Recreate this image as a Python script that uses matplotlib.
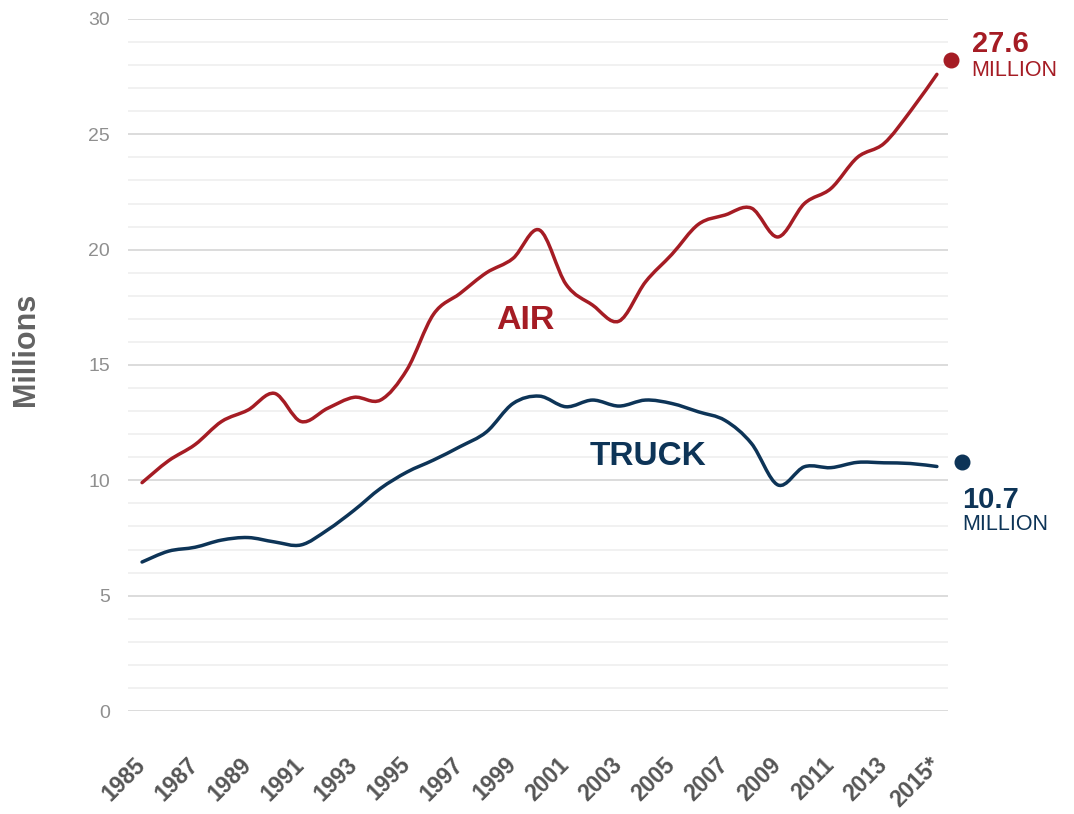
import matplotlib.pyplot as plt
import matplotlib.transforms as mtransforms
from matplotlib.path import Path
from matplotlib.patches import PathPatch
import numpy as np

# Data (millions)
years = list(range(1985, 2016))
air = [9.9, 10.85, 11.55, 12.55, 13.05, 13.77, 12.55, 13.12, 13.6, 13.48,
       14.8, 17.2, 18.1, 19.0, 19.62, 20.85, 18.5, 17.6, 16.9, 18.6,
       19.8, 21.1, 21.5, 21.8, 20.55, 22.0, 22.65, 24.0, 24.6, 26.0, 27.6]
truck = [6.46, 6.93, 7.1, 7.41, 7.52, 7.33, 7.2, 7.85, 8.7, 9.65,
         10.36, 10.88, 11.46, 12.1, 13.33, 13.65, 13.19, 13.48, 13.22, 13.48,
         13.33, 12.97, 12.6, 11.6, 9.8, 10.59, 10.55, 10.78, 10.76, 10.73, 10.6]
air_latest = 27.6
truck_latest = 10.7
tick_years = list(range(1985, 2016, 2))
tick_labels = [str(y) for y in tick_years[:-1]] + ["2015*"]

RED = "#a51c24"
NAVY = "#0d3457"

plt.rcParams['font.family'] = ['Liberation Sans', 'DejaVu Sans']


def smooth_path(x, y):
    # Catmull-Rom curve through every point, as cubic bezier segments
    pts = np.column_stack([x, y]).astype(float)
    ext = np.vstack([pts[0], pts, pts[-1]])
    verts = [pts[0]]
    codes = [Path.MOVETO]
    for i in range(1, len(ext) - 2):
        p0, p1, p2, p3 = ext[i - 1], ext[i], ext[i + 1], ext[i + 2]
        verts += [p1 + (p2 - p0) / 6, p2 - (p3 - p1) / 6, p2]
        codes += [Path.CURVE4] * 3
    return Path(verts, codes)


fig = plt.figure(figsize=(10.74, 8.14), dpi=100)
ax = fig.add_axes([0.1192, 0.1265, 0.7635, 0.8502])

ax.set_xlim(1984.47, 2015.42)
ax.set_ylim(0, 30)

# Grid: light lines every million, darker every five
for v in range(0, 31):
    major = v % 5 == 0
    ax.axhline(v, color="#d9d9d9" if major else "#f0f0f0", lw=1.3, zorder=0)

for series, color in [(air, RED), (truck, NAVY)]:
    ax.add_patch(PathPatch(smooth_path(years, series), fill=False,
                           edgecolor=color, lw=2.5, capstyle='round', zorder=3))

# End dots, nudged off the line ends
air_off = mtransforms.offset_copy(ax.transData, fig=fig, x=10, y=10.5, units='points')
truck_off = mtransforms.offset_copy(ax.transData, fig=fig, x=18, y=1.3, units='points')
ax.plot([2015], [air_latest], "o", ms=10.5, color=RED, transform=air_off, clip_on=False, zorder=4)
ax.plot([2015], [truck_latest], "o", ms=10.5, color=NAVY, transform=truck_off, clip_on=False, zorder=4)

ax.annotate(f"{air_latest}", xy=(2015, air_latest), xytext=(25, 16.3), textcoords="offset points",
            color=RED, fontsize=21, fontweight="bold", ha="left", va="baseline", annotation_clip=False)
ax.annotate("MILLION", xy=(2015, air_latest), xytext=(25, -1.2), textcoords="offset points",
            color=RED, fontsize=15.5, ha="left", va="baseline", annotation_clip=False)
ax.annotate(f"{truck_latest}", xy=(2015, truck_latest), xytext=(18.5, -31.5), textcoords="offset points",
            color=NAVY, fontsize=21, fontweight="bold", ha="left", va="baseline", annotation_clip=False)
ax.annotate("MILLION", xy=(2015, truck_latest), xytext=(18.5, -47.4), textcoords="offset points",
            color=NAVY, fontsize=15.5, ha="left", va="baseline", annotation_clip=False)

# Series names
ax.text(1999.46, 16.55, "AIR", color=RED, fontsize=24.5, fontweight="bold", ha="center", va="baseline")
ax.text(2004.09, 10.66, "TRUCK", color=NAVY, fontsize=24, fontweight="bold", ha="center", va="baseline")

# Axes styling
for s in ax.spines.values():
    s.set_visible(False)
ax.set_yticks(range(0, 31, 5))
ax.tick_params(axis="y", length=0, pad=13, labelsize=14, labelcolor="#8f8f8f")
ax.set_xticks(tick_years)
ax.set_xticklabels(tick_labels, rotation=45, ha="right", va="center", rotation_mode="anchor",
                   fontsize=16.5, fontweight="bold", color="#555555")
ax.tick_params(axis="x", length=0, pad=36)

fig.text(25.5 / 1074, 1 - 349 / 814, "Millions", rotation=90, ha="center", va="center",
         fontsize=22, fontweight="bold", color="#636363")

fig.savefig("out.png", dpi=100)
